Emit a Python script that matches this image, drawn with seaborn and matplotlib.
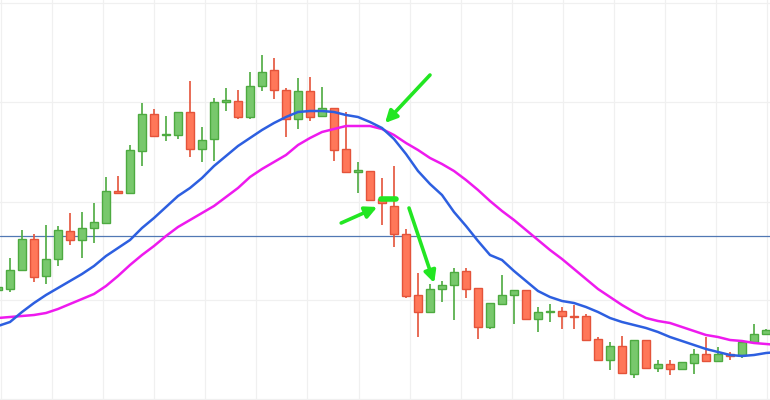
import numpy as np
import pandas as pd
import seaborn as sns
from matplotlib import pyplot as plt

# candle index -1 is the one cut off at the left edge
idx = list(range(-1, 64))
opens = [11.0, 11.1, 13.0, 16.1, 12.4, 14.1, 16.9, 16.0, 17.2, 17.7, 20.9, 20.7, 24.9, 28.6, 26.5, 26.5,
         28.8, 25.1, 26.1, 29.8, 29.9, 28.3, 31.4, 33.0, 31.0, 28.1, 30.9, 28.4, 29.2, 25.1, 22.8, 22.9,
         20.1, 19.4, 16.6, 10.5, 8.8, 11.1, 11.5, 12.9, 11.2, 7.3, 9.6, 10.5, 11.0, 8.1, 8.8, 8.9,
         8.4, 8.4, 6.1, 4.0, 5.4, 2.6, 6.0, 3.2, 3.6, 3.1, 3.7, 4.6, 3.9, 4.6, 4.5, 5.8, 6.6]
highs = [11.5, 14.2, 17.0, 16.6, 17.5, 17.4, 18.7, 18.8, 19.7, 22.3, 22.4, 25.5, 29.7, 29.1, 28.4, 28.8,
         31.9, 27.3, 30.2, 31.2, 31.0, 32.8, 34.5, 34.2, 31.2, 32.2, 32.3, 31.3, 29.2, 28.8, 23.8, 22.9,
         22.2, 23.4, 17.1, 12.7, 11.6, 11.9, 13.2, 13.2, 11.2, 9.7, 12.5, 11.0, 11.0, 9.3, 9.6, 9.3,
         9.5, 8.6, 6.3, 5.8, 6.4, 6.0, 6.0, 4.0, 4.0, 3.8, 5.1, 6.3, 5.3, 4.8, 6.0, 7.6, 7.1]
lows = [10.8, 10.8, 13.0, 11.8, 11.6, 13.4, 15.5, 14.2, 15.7, 17.7, 20.7, 20.7, 23.4, 26.3, 25.9, 26.1,
        24.3, 23.8, 23.9, 28.9, 28.1, 28.1, 30.9, 30.1, 26.3, 27.1, 27.9, 28.4, 23.9, 22.7, 20.7, 19.9,
        17.5, 15.3, 10.2, 6.3, 8.7, 9.8, 8.0, 10.2, 6.1, 7.1, 9.6, 7.6, 8.1, 6.8, 7.8, 7.1,
        7.1, 6.0, 4.0, 3.0, 2.6, 2.2, 3.2, 2.8, 2.5, 3.0, 2.6, 3.9, 3.9, 4.0, 4.2, 5.6, 6.5]
closes = [11.3, 13.0, 16.1, 12.3, 14.1, 17.0, 16.0, 17.2, 17.8, 20.9, 20.7, 25.0, 28.6, 26.4, 26.6, 28.8,
          25.1, 26.0, 29.8, 29.9, 28.3, 31.4, 32.8, 31.0, 28.1, 30.9, 28.3, 29.2, 25.0, 22.8, 22.9, 20.0,
          19.7, 16.6, 10.4, 8.8, 11.1, 11.5, 12.8, 11.1, 7.3, 9.7, 10.5, 11.0, 8.1, 8.8, 8.9, 8.4,
          8.3, 6.0, 4.0, 5.4, 2.7, 6.0, 3.2, 3.6, 3.1, 3.8, 4.6, 3.9, 4.6, 4.4, 5.8, 6.6, 7.0]

# moving averages read at each candle, index -1 .. 64
ma_idx = list(range(-1, 65))
ma_fast = [7.4, 7.8, 8.8, 9.7, 10.5, 11.2, 11.9, 12.6, 13.4, 14.4, 15.2, 16.0, 17.2, 18.2, 19.3, 20.4,
           21.2, 22.2, 23.4, 24.4, 25.4, 26.2, 27.0, 27.7, 28.3, 28.8, 28.9, 28.9, 28.8, 28.5, 28.3, 27.8,
           27.2, 26.1, 24.6, 22.9, 21.6, 20.5, 18.8, 17.4, 15.9, 14.5, 14.0, 12.9, 11.9, 10.9, 10.3, 9.9,
           9.7, 9.3, 8.8, 8.2, 7.8, 7.5, 7.2, 6.8, 6.3, 5.9, 5.5, 5.1, 4.8, 4.5, 4.4, 4.5, 4.7, 4.8]
ma_slow = [8.2, 8.3, 8.4, 8.5, 8.7, 9.1, 9.6, 10.1, 10.6, 11.4, 12.4, 13.5, 14.5, 15.4, 16.4, 17.3,
           18.0, 18.7, 19.4, 20.3, 21.2, 22.3, 23.1, 23.8, 24.5, 25.5, 26.2, 26.8, 27.1, 27.4, 27.4, 27.4,
           27.1, 26.5, 25.7, 25.0, 24.2, 23.6, 22.9, 22.0, 21.0, 19.9, 18.9, 18.0, 17.0, 16.0, 15.0, 14.1,
           13.1, 12.1, 11.1, 10.3, 9.5, 8.8, 8.2, 7.9, 7.7, 7.3, 6.9, 6.5, 6.3, 6.0, 5.9, 5.7, 5.6, 5.5]

level = 16.4
y_grid = [0.1, 10.0, 19.8, 29.8, 39.7]

up_fill, up_edge = "#78c86c", "#4daa40"
dn_fill, dn_edge = "#ff7759", "#e4533a"
arrow_green = "#22e622"

sns.set_style("white")

fig = plt.figure(figsize=(7.7, 4), dpi=100)
ax = fig.add_axes([0, 0, 1, 1])

candles = pd.DataFrame({"i": idx, "open": opens, "high": highs, "low": lows, "close": closes})
up = candles["close"] >= candles["open"]

# wicks then bodies
for mask, fill, edge in [(up, up_fill, up_edge), (~up, dn_fill, dn_edge)]:
    d = candles[mask]
    ax.vlines(d["i"], d["low"], d["high"], color=edge, lw=1.2, zorder=2)
    bottom = np.minimum(d["open"], d["close"])
    height = np.maximum(np.abs(d["close"] - d["open"]), 0.15)
    ax.bar(d["i"], height, bottom=bottom, width=0.68, color=fill,
           edgecolor=edge, linewidth=1.0, zorder=3)

ma = pd.DataFrame({"i": ma_idx, "fast": ma_fast, "slow": ma_slow})
sns.lineplot(data=ma, x="i", y="slow", ax=ax, color="#ee1aee", lw=1.8, zorder=4)
sns.lineplot(data=ma, x="i", y="fast", ax=ax, color="#2d5fe0", lw=1.8, zorder=5)

ax.axhline(level, color="#5178b4", lw=0.9, zorder=1)

# annotations
arrow_kw = dict(arrowstyle="-|>,head_length=0.7,head_width=0.35", color=arrow_green, lw=2.6,
                shrinkA=0, shrinkB=0)
ax.annotate("", xy=(31.25, 27.7), xytext=(35.0, 32.5), arrowprops=arrow_kw, zorder=6)
ax.annotate("", xy=(30.6, 19.3), xytext=(27.6, 17.7), arrowprops=arrow_kw, zorder=6)
ax.annotate("", xy=(35.35, 11.7), xytext=(33.25, 19.2), arrowprops=arrow_kw, zorder=6)
ax.plot([30.95, 32.2], [20.1, 20.1], color=arrow_green, lw=4, solid_capstyle="round", zorder=6)

ax.set_xlim(-10 / 12, 760 / 12)
ax.set_ylim(0, 40)
ax.set_xticks(3.5 + 4.258 * np.arange(-1, 15))
ax.set_yticks(y_grid)
ax.grid(True, color="#f0f0f0", lw=0.9)
ax.set_axisbelow(True)
ax.tick_params(left=False, bottom=False, labelleft=False, labelbottom=False)
ax.set_xlabel("")
ax.set_ylabel("")
sns.despine(ax=ax, left=True, bottom=True)

fig.savefig("out.png", dpi=100)
